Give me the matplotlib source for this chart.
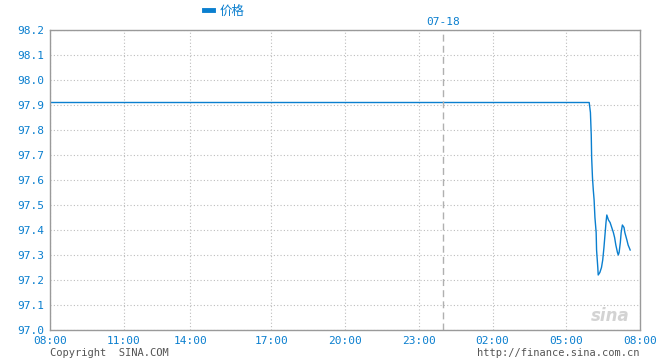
import matplotlib
matplotlib.use("Agg")
import matplotlib.pyplot as plt
from matplotlib.lines import Line2D

# price series, times (08:00 on 07-17 to 08:00 on 07-18)
times = ["08:00", "05:56", "05:59", "06:01", "06:02", "06:04", "06:06", "06:08",
         "06:10", "06:13", "06:14", "06:17", "06:18", "06:22", "06:26", "06:29",
         "06:32", "06:35", "06:37", "06:39", "06:43", "06:47", "06:51", "06:55",
         "06:58", "07:01", "07:05", "07:07", "07:09", "07:12", "07:14", "07:17",
         "07:21", "07:23", "07:28", "07:31", "07:36"]
prices = [97.91, 97.91, 97.87, 97.78, 97.69, 97.61, 97.56, 97.52,
          97.45, 97.39, 97.32, 97.25, 97.22, 97.23, 97.25, 97.28,
          97.33, 97.39, 97.43, 97.46, 97.44, 97.43, 97.41, 97.39,
          97.37, 97.34, 97.31, 97.30, 97.31, 97.35, 97.39, 97.42,
          97.41, 97.39, 97.36, 97.34, 97.32]

x_labels = ["08:00", "11:00", "14:00", "17:00", "20:00", "23:00", "02:00", "05:00", "08:00"]
y_ticks = [97.0, 97.1, 97.2, 97.3, 97.4, 97.5, 97.6, 97.7, 97.8, 97.9, 98.0, 98.1, 98.2]
date_label = "07-18"


def to_minutes(t, first=False):
    # minutes after 08:00 of the first day
    h, m = map(int, t.split(":"))
    mins = (h - 8) * 60 + m
    if mins < 0 or (mins == 0 and not first):
        mins += 1440
    return mins


xs = [to_minutes(t, i == 0) for i, t in enumerate(times)]
x_pos = [0, 180, 342, 540, 720, 900, 1080, 1260, 1440]

blue = "#0a7fcf"
grey = "#9a9a9a"

fig = plt.figure(figsize=(6.6, 3.6), dpi=100)
ax = fig.add_axes([50 / 660, 30 / 360, 590 / 660, 300 / 360])

ax.plot(xs, prices, color=blue, lw=1.0)
ax.axvline(960, color="#b0b0b0", lw=1, ls=(0, (5, 3)))

ax.set_xlim(0, 1440)
ax.set_ylim(97.0, 98.2)
ax.set_xticks(x_pos)
ax.set_xticklabels(x_labels)
ax.set_yticks(y_ticks)
ax.set_yticklabels(["%.1f" % v for v in y_ticks])
ax.tick_params(length=0, colors=blue, labelsize=8, pad=4)
for lab in ax.get_xticklabels() + ax.get_yticklabels():
    lab.set_family("DejaVu Sans Mono")
ax.grid(True, color="#bdbdbd", ls=(0, (1, 2)), lw=0.8)
for s in ax.spines.values():
    s.set_color(grey)
    s.set_linewidth(1.0)

# date marker above dashed line
ax.text(960, 1.01, date_label, transform=ax.get_xaxis_transform(),
        ha="center", va="bottom", color=blue, fontsize=8, family="DejaVu Sans Mono")

# legend
handle = Line2D([], [], color=blue, lw=3.5)
fig.legend([handle], ["价格"], loc="center left", bbox_to_anchor=(193 / 660, 1 - 11 / 360),
           frameon=False, handlelength=0.7, handletextpad=0.5, labelcolor=blue,
           prop={"family": ["Noto Sans CJK SC", "DejaVu Sans"], "size": 9})

# footer texts
fig.text(50 / 660, 1 - 353 / 360, "Copyright  SINA.COM", color="#555555", fontsize=7.5,
         family="DejaVu Sans Mono", va="center")
fig.text(640 / 660, 1 - 353 / 360, "http://finance.sina.com.cn", color="#555555", fontsize=7.5,
         family="DejaVu Sans Mono", va="center", ha="right")
fig.text(630 / 660, 1 - 316 / 360, "sina", color="#c8c8c8", fontsize=12, style="italic",
         weight="bold", ha="right", va="center", alpha=0.8)

fig.savefig("out.png", dpi=100)
